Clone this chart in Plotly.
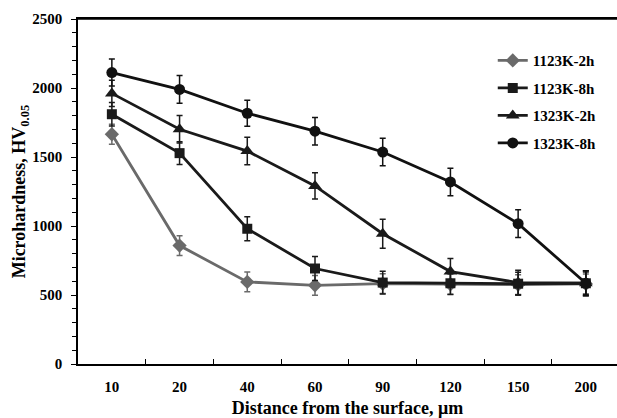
import plotly.graph_objects as go

distances = ["10", "20", "40", "60", "90", "120", "150", "200"]

hv_1123_2h = [1665, 858, 595, 570, 582, 578, 575, 580]
hv_1123_8h = [1810, 1528, 980, 692, 590, 585, 582, 585]
hv_1323_2h = [1961, 1701, 1543, 1290, 944, 670, 590, 585]
hv_1323_8h = [2112, 1990, 1817, 1687, 1536, 1319, 1017, 585]

err_1123_2h = [72, 72, 72, 72, 72, 72, 72, 72]
err_1123_8h = [85, 82, 87, 87, 82, 82, 82, 82]
err_1323_2h = [95, 100, 100, 95, 105, 95, 90, 90]
err_1323_8h = [98, 100, 95, 100, 100, 100, 100, 90]

series = [
    ("1123K-2h", hv_1123_2h, err_1123_2h, "diamond", 11, "#6a6a6a"),
    ("1123K-8h", hv_1123_8h, err_1123_8h, "square", 10, "#1a1a1a"),
    ("1323K-2h", hv_1323_2h, err_1323_2h, "triangle-up", 12, "#1a1a1a"),
    ("1323K-8h", hv_1323_8h, err_1323_8h, "circle", 11, "#111111"),
]

FONT = "Liberation Serif"

fig = go.Figure()
for name, vals, errs, sym, size, col in series:
    fig.add_trace(go.Scatter(
        x=distances, y=vals, name=name, mode="lines+markers",
        legendgroup=name,
        line=dict(color=col, width=2.8),
        marker=dict(symbol=sym, size=size, color=col),
        error_y=dict(type="data", array=errs, visible=True,
                     color=col, thickness=1.5, width=3),
    ))

fig.add_shape(type="line", xref="paper", yref="paper", x0=0, x1=1, y0=1, y1=1,
              line=dict(color="black", width=1.5), layer="above")

fig.update_layout(
    width=617, height=418,
    margin=dict(l=78, r=0, t=19, b=54),
    paper_bgcolor="white", plot_bgcolor="white",
    font=dict(family=FONT, size=15, color="black", weight=700),
    showlegend=True,
    legend=dict(x=0.7695, y=0.927, xanchor="left", yanchor="top",
                bgcolor="rgba(0,0,0,0)", tracegroupgap=5,
                font=dict(family=FONT, size=15, color="black", weight=700),
                itemwidth=30),
    xaxis=dict(
        type="category", range=[-0.5, 7.46],
        showline=True, linecolor="black", linewidth=1.5, mirror=True,
        ticks="inside", ticklen=5, tickcolor="black", tickwidth=1,
        tickson="boundaries", showgrid=False, zeroline=False,
        ticklabelstandoff=8,
        tickfont=dict(family=FONT, size=15, color="black", weight=700),
        title=dict(text="Distance from the surface, μm", standoff=8,
                   font=dict(family=FONT, size=18, color="black", weight=700)),
    ),
    yaxis=dict(
        range=[0, 2500], dtick=500, tick0=0,
        showline=True, linecolor="black", linewidth=1.5,
        ticks="outside", ticklen=5, tickcolor="black", tickwidth=1,
        minor=dict(dtick=100, ticks="outside", ticklen=4, tickcolor="black", tickwidth=1),
        showgrid=False, zeroline=False,
        ticklabelstandoff=6,
        tickfont=dict(family=FONT, size=15, color="black", weight=700),
        title=dict(text="Microhardness, HV<sub>0.05</sub>", standoff=0,
                   font=dict(family=FONT, size=18, color="black", weight=700)),
    ),
)

fig.write_html("out.html", config={"displayModeBar": False},
               post_script="document.body.style.margin='0';")
